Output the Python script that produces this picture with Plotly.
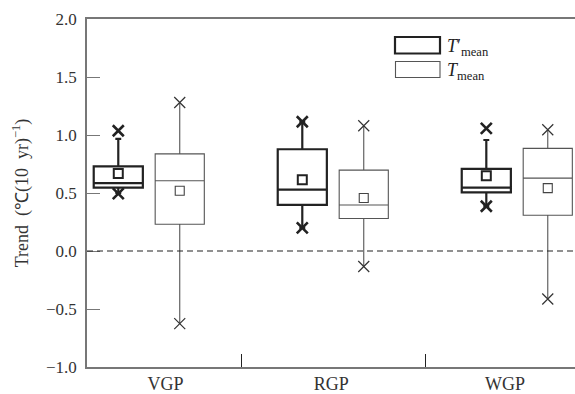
import plotly.graph_objects as go

categories = ["VGP", "RGP", "WGP"]

# T'mean (thick boxes)
tp_q1 = [0.546, 0.397, 0.506]
tp_median = [0.585, 0.529, 0.546]
tp_q3 = [0.730, 0.877, 0.708]
tp_lowfence = [0.500, 0.200, 0.386]
tp_highfence = [0.966, 1.114, 0.957]
tp_mean = [0.668, 0.614, 0.649]
tp_min = [0.494, 0.200, 0.386]
tp_max = [1.037, 1.114, 1.057]

# Tmean (thin boxes)
t_q1 = [0.231, 0.280, 0.308]
t_median = [0.606, 0.397, 0.628]
t_q3 = [0.837, 0.697, 0.885]
t_mean = [0.520, 0.457, 0.542]
t_min = [-0.626, -0.134, -0.414]
t_max = [1.280, 1.080, 1.045]

yticks = [-1.0, -0.5, 0.0, 0.5, 1.0, 1.5, 2.0]

OFF = 0.167
BW = 0.267
LABEL_SHIFT = [0.09, -0.01, -0.065]
idx = list(range(len(categories)))
xp = [i - OFF for i in idx]
xt = [i + OFF for i in idx]

FONT = "Liberation Serif, Times New Roman, serif"
fig = go.Figure()

fig.add_trace(go.Box(x=xp, q1=tp_q1, median=tp_median, q3=tp_q3,
                     lowerfence=tp_lowfence, upperfence=tp_highfence,
                     width=BW, whiskerwidth=0.12, fillcolor="rgba(0,0,0,0)",
                     line=dict(color="#222222", width=2.2), boxpoints=False,
                     showlegend=False, hoverinfo="skip"))
fig.add_trace(go.Box(x=xt, q1=t_q1, median=t_median, q3=t_q3,
                     lowerfence=t_min, upperfence=t_max,
                     width=BW, whiskerwidth=0, fillcolor="rgba(0,0,0,0)",
                     line=dict(color="#555555", width=1.1), boxpoints=False,
                     showlegend=False, hoverinfo="skip"))

# means
fig.add_trace(go.Scatter(x=xp, y=tp_mean, mode="markers", showlegend=False,
                         marker=dict(symbol="square-open", size=9, color="#222222",
                                     line=dict(width=2, color="#222222"))))
fig.add_trace(go.Scatter(x=xt, y=t_mean, mode="markers", showlegend=False,
                         marker=dict(symbol="square-open", size=9, color="#444444",
                                     line=dict(width=1.1, color="#444444"))))
# extremes
fig.add_trace(go.Scatter(x=xp + xp, y=tp_min + tp_max, mode="markers", showlegend=False,
                         marker=dict(symbol="x-thin", size=11, color="#222222",
                                     line=dict(width=2.6, color="#222222"))))
fig.add_trace(go.Scatter(x=xt + xt, y=t_min + t_max, mode="markers", showlegend=False,
                         marker=dict(symbol="x-thin", size=11, color="#333333",
                                     line=dict(width=1.2, color="#333333"))))

# zero line
fig.add_shape(type="line", xref="paper", x0=0, x1=1, yref="y", y0=0, y1=0,
              line=dict(color="#222222", width=1.2, dash="6px,4px"))

# legend (custom)
fig.add_shape(type="rect", xref="paper", yref="paper",
              x0=(395 - 87) / 488, x1=(440 - 87) / 488,
              y0=(367 - 53.5) / 348, y1=(367 - 37) / 348,
              line=dict(color="#222222", width=2.2))
fig.add_shape(type="rect", xref="paper", yref="paper",
              x0=(395.5 - 87) / 488, x1=(440 - 87) / 488,
              y0=(367 - 77.5) / 348, y1=(367 - 61.5) / 348,
              line=dict(color="#555555", width=1.1))
fig.add_annotation(xref="paper", yref="paper", x=(445 - 87) / 488, y=(367 - 47) / 348,
                   text="<i>T</i>′<sub>mean</sub>", showarrow=False, xanchor="left",
                   yanchor="middle", font=dict(family=FONT, size=18, color="#222222"))
fig.add_annotation(xref="paper", yref="paper", x=(445 - 87) / 488, y=(367 - 71) / 348,
                   text="<i>T</i><sub>mean</sub>", showarrow=False, xanchor="left",
                   yanchor="middle", font=dict(family=FONT, size=18, color="#222222"))

fig.update_layout(
    width=575, height=394,
    margin=dict(l=87, r=0, t=19, b=27),
    paper_bgcolor="white", plot_bgcolor="white",
    font=dict(family=FONT, size=16, color="#333333"),
    showlegend=False,
    xaxis=dict(range=[-0.337, 2.315], showgrid=False, zeroline=False,
               showline=True, linecolor="#777777", linewidth=1.5, mirror=True,
               tickmode="array", tickvals=[i + s for i, s in zip(idx, LABEL_SHIFT)],
               ticktext=categories, ticks="",
               tickfont=dict(size=18),
               minor=dict(tickmode="array", tickvals=[0.5, 1.5], ticks="inside",
                          ticklen=13, tickcolor="#222222", tickwidth=1)),
    yaxis=dict(range=[-1.0, 2.0], showgrid=False, zeroline=False,
               showline=True, linecolor="#777777", linewidth=1.5,
               tickmode="array", tickvals=yticks,
               ticktext=[f"{v:.1f}".replace("-", "−") for v in yticks],
               ticks="inside", ticklen=13, tickcolor="#777777", tickwidth=1,
               ticklabelstandoff=5,
               tickfont=dict(size=17),
               title=dict(text="Trend\u2002(℃(10\u2002yr)<sup>−1</sup>)", standoff=13,
                          font=dict(size=18))),
)

fig.write_html("out.html")
